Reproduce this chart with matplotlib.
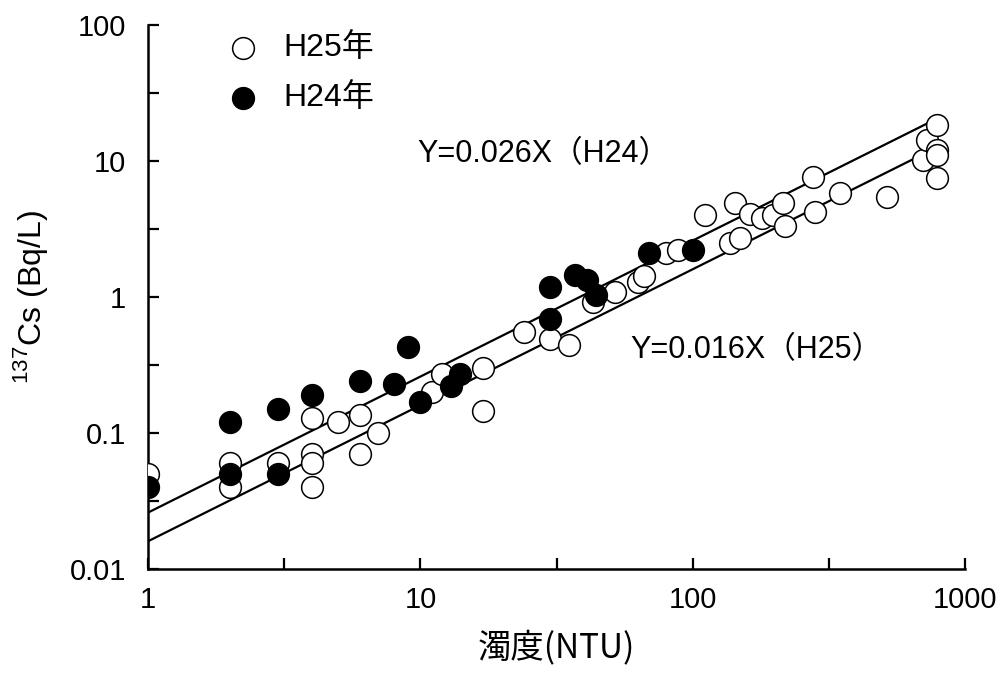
import matplotlib
matplotlib.use("Agg")
import matplotlib.pyplot as plt
import numpy as np
from matplotlib.ticker import FixedLocator, NullFormatter

plt.rcParams['font.family'] = ['Liberation Sans', 'Noto Sans CJK JP', 'DejaVu Sans']
plt.rcParams['mathtext.fontset'] = 'custom'
plt.rcParams['mathtext.rm'] = 'Liberation Sans'

# H25 (open circles)
h25_x = [1, 2, 2, 3, 4, 4, 4, 4, 5, 6, 6, 7, 11, 12, 17, 17, 24, 30, 35, 43, 52, 63, 66,
         80, 88, 111, 137, 143, 149, 162, 180, 197, 215, 218, 277, 282, 348, 517,
         702, 726, 790, 790, 790, 790]
h25_y = [0.05, 0.06, 0.04, 0.06, 0.13, 0.07, 0.06, 0.04, 0.12, 0.135, 0.07, 0.1, 0.2, 0.27,
         0.3, 0.145, 0.55, 0.49, 0.44, 0.92, 1.09, 1.29, 1.43,
         2.1, 2.2, 4.0, 2.5, 4.9, 2.7, 4.1, 3.8, 4.0, 4.9, 3.3, 7.6, 4.2, 5.8, 5.4,
         10.2, 14.3, 18.4, 12.0, 11.1, 7.5]

# H24 (filled circles)
h24_x = [1, 2, 2, 3, 3, 4, 6, 8, 9, 10, 13, 14, 30, 30, 37, 41, 44, 69, 100]
h24_y = [0.04, 0.12, 0.05, 0.15, 0.05, 0.19, 0.24, 0.23, 0.43, 0.17, 0.22, 0.27,
         1.18, 0.69, 1.45, 1.33, 1.03, 2.1, 2.2]

# regression lines
slope_h24 = 0.026
slope_h25 = 0.016
fit_x_h24 = [1, 750]
fit_x_h25 = [1, 650]

xt = [1, 10, 100, 1000]
xt_labels = ['1', '10', '100', '1000']
yt = [0.01, 0.1, 1, 10, 100]
yt_labels = ['0.01', '0.1', '1', '10', '100']

fig = plt.figure(figsize=(10.03, 6.77), dpi=100)
ax = fig.add_axes([0.1476, 0.1595, 0.8146, 0.8036])

ax.plot(fit_x_h24, [slope_h24 * v for v in fit_x_h24], color='black', lw=1.6, zorder=2)
ax.plot(fit_x_h25, [slope_h25 * v for v in fit_x_h25], color='black', lw=1.6, zorder=2)

ms = 245
ax.scatter(h25_x, h25_y, s=ms, facecolor='white', edgecolor='black', linewidth=1.1, zorder=3)
ax.scatter(h24_x, h24_y, s=ms, facecolor='black', edgecolor='black', linewidth=1.1, zorder=4)

ax.set_xscale('log')
ax.set_yscale('log')
ax.set_xlim(1, 1000)
ax.set_ylim(0.01, 100)

for s in ['top', 'right']:
    ax.spines[s].set_visible(False)
for s in ['left', 'bottom']:
    ax.spines[s].set_linewidth(1.8)

ax.set_xticks(xt, xt_labels, fontsize=21)
ax.set_yticks(yt, yt_labels, fontsize=21)
ax.xaxis.set_minor_locator(FixedLocator([10 ** 0.5, 10 ** 1.5, 10 ** 2.5]))
ax.yaxis.set_minor_locator(FixedLocator([10 ** -1.5, 10 ** -0.5, 10 ** 0.5, 10 ** 1.5]))
ax.xaxis.set_minor_formatter(NullFormatter())
ax.yaxis.set_minor_formatter(NullFormatter())
ax.tick_params(which='both', direction='in', width=1.6, length=8)
ax.tick_params(axis='x', which='major', pad=12)
ax.tick_params(axis='y', which='major', pad=16)

ax.set_xlabel('濁度(NTU)', fontsize=24, labelpad=12, family=['Noto Sans CJK JP'])
ax.set_ylabel('$^{137}$Cs (Bq/L)', fontsize=23, labelpad=14)

ax.text(0.329, 0.762, 'Y=0.026X（H24）', transform=ax.transAxes, fontsize=22, ha='left', va='center')
ax.text(0.59, 0.403, 'Y=0.016X（H25）', transform=ax.transAxes, fontsize=22, ha='left', va='center')

ax.scatter([0.116], [0.957], s=ms, facecolor='white', edgecolor='black', linewidth=1.1,
           transform=ax.transAxes, clip_on=False)
ax.scatter([0.116], [0.866], s=ms, facecolor='black', edgecolor='black', linewidth=1.1,
           transform=ax.transAxes, clip_on=False)
ax.text(0.166, 0.957, 'H25年', transform=ax.transAxes, fontsize=23, ha='left', va='center')
ax.text(0.166, 0.866, 'H24年', transform=ax.transAxes, fontsize=23, ha='left', va='center')

fig.savefig('out.png', dpi=100)
